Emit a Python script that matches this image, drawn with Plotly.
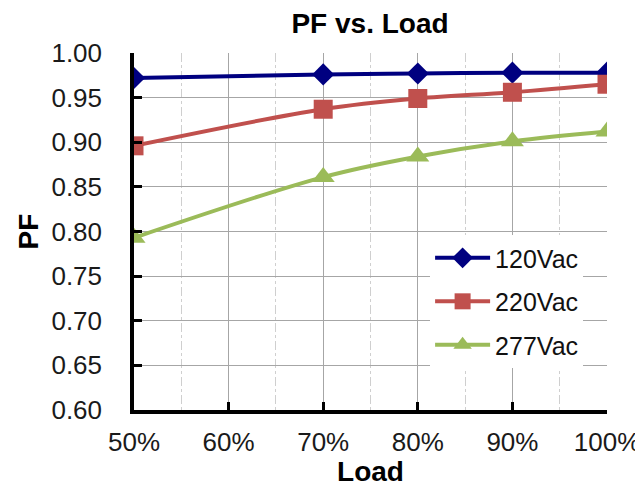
import plotly.graph_objects as go

load = [0.5, 0.7, 0.8, 0.9, 1.0]
pf_120 = [0.972, 0.976, 0.977, 0.978, 0.978]
pf_220 = [0.896, 0.937, 0.949, 0.956, 0.965]
pf_277 = [0.793, 0.861, 0.884, 0.901, 0.912]
series_names = ["120Vac", "220Vac", "277Vac"]
colors = ["#000080", "#C0504D", "#9BBB59"]

fig = go.Figure()
fig.add_trace(go.Scatter(x=load, y=pf_120, name=series_names[0], mode="lines+markers", legendgroup="a",
                         line=dict(color=colors[0], width=4, shape="spline"),
                         marker=dict(symbol="diamond", size=17, color=colors[0])))
fig.add_trace(go.Scatter(x=load, y=pf_220, name=series_names[1], mode="lines+markers", legendgroup="b",
                         line=dict(color=colors[1], width=4, shape="spline"),
                         marker=dict(symbol="square", size=19, color=colors[1])))
fig.add_trace(go.Scatter(x=load, y=pf_277, name=series_names[2], mode="lines+markers", legendgroup="c",
                         line=dict(color=colors[2], width=4, shape="spline"),
                         marker=dict(symbol="triangle-up", size=20, color=colors[2])))

# page body has an 8px default margin, so the figure is drawn 8px smaller and shifted
W, H = 635, 479
font_family = "Liberation Sans, Arial, sans-serif"
fig.update_layout(
    width=W, height=H,
    margin=dict(l=126, r=36, t=45, b=77, autoexpand=False),
    paper_bgcolor="white", plot_bgcolor="white",
    font=dict(family=font_family, color="black", size=26),
    title=dict(text="<b>PF vs. Load</b>", x=362 / W, xanchor="center",
               yref="container", y=1 - 15 / H, yanchor="middle",
               font=dict(size=28, color="black")),
    showlegend=True,
    legend=dict(x=0.626, y=0.49, xanchor="left", yanchor="top", bgcolor="white",
                font=dict(size=25, color="#111"), itemwidth=55, tracegroupgap=8,
                borderwidth=0),
    xaxis=dict(range=[0.5, 1.0], dtick=0.1, tick0=0.5, tickformat=".0%",
               showline=True, linecolor="black", linewidth=3.5, automargin=False,
               ticks="inside", ticklen=8, tickwidth=3, tickcolor="black",
               showgrid=True, gridcolor="#A6A6A6", gridwidth=1.2,
               minor=dict(dtick=0.05, showgrid=True, gridcolor="#CFCFCF", griddash="dashdot", gridwidth=1),
               title=dict(text="<b>Load</b>", font=dict(size=28, color="black"), standoff=0),
               ticklabelstandoff=6,
               tickfont=dict(size=26, color="#1a1a1a"), zeroline=False),
    yaxis=dict(range=[0.6, 1.0], dtick=0.05, tick0=0.6, tickformat=".2f",
               showline=True, linecolor="black", linewidth=3.5, automargin=False,
               ticks="inside", ticklen=8, tickwidth=3, tickcolor="black",
               showgrid=True, gridcolor="#A6A6A6", gridwidth=1.2,
               title=dict(text="<b>PF</b>", font=dict(size=28, color="black"), standoff=6),
               ticklabelstandoff=23,
               tickfont=dict(size=26, color="#1a1a1a"), zeroline=False),
)
fig.write_html("out.html")
